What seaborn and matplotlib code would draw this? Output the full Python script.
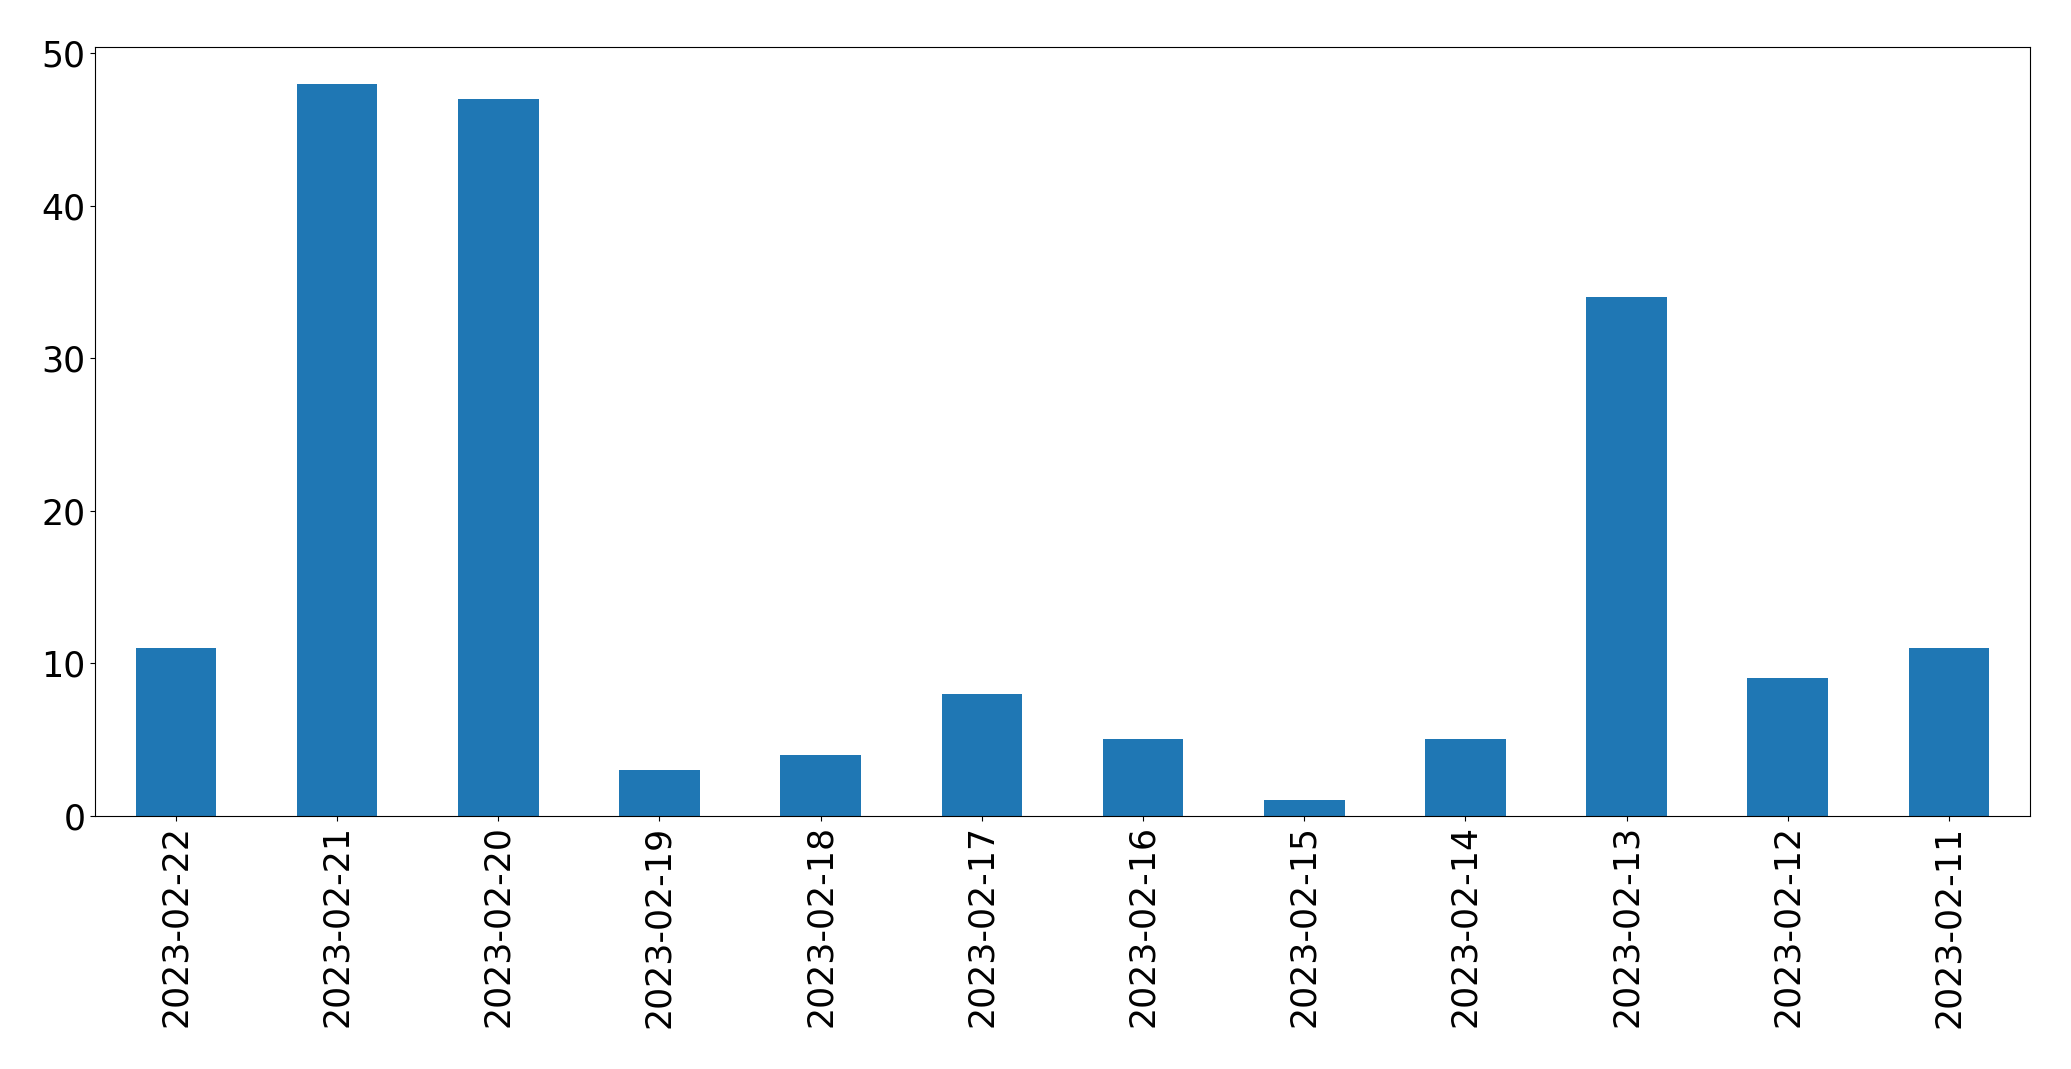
import matplotlib
matplotlib.use("Agg")
import matplotlib.pyplot as plt
import seaborn as sns
import pandas as pd

dates = ["2023-02-22", "2023-02-21", "2023-02-20", "2023-02-19", "2023-02-18", "2023-02-17",
         "2023-02-16", "2023-02-15", "2023-02-14", "2023-02-13", "2023-02-12", "2023-02-11"]
counts = [11, 48, 47, 3, 4, 8, 5, 1, 5, 34, 9, 11]

df = pd.DataFrame({"date": dates, "count": counts})

fig = plt.figure(figsize=(20.71, 10.69), dpi=100)
ax = fig.add_axes([0.046, 0.237, 0.934, 0.719])
sns.barplot(data=df, x="date", y="count", order=dates, color="#1f77b4",
            saturation=1, width=0.5, ax=ax, linewidth=0)
ax.set_xlim(-0.5, len(dates) - 0.5)
ax.set_ylim(0, 50.4)
ax.set_xlabel("")
ax.set_ylabel("")
ax.tick_params(axis="both", labelsize=25)
ax.tick_params(axis="x", labelrotation=90)
fig.savefig("out.png", dpi=100)
